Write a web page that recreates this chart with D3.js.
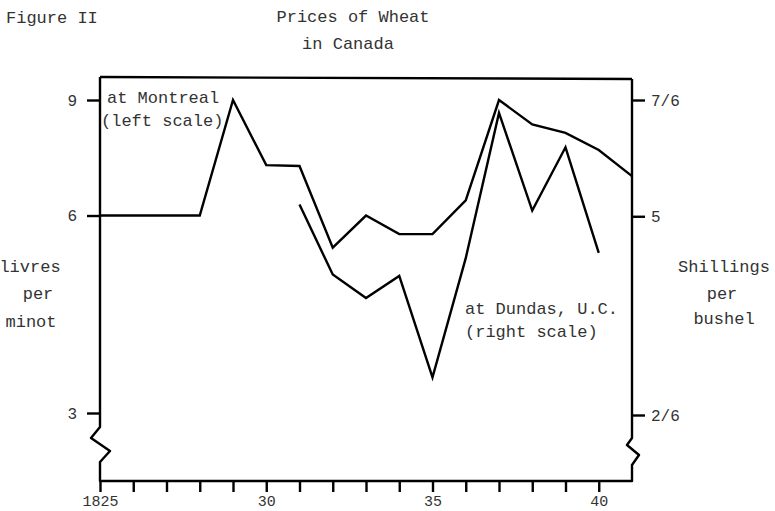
<!DOCTYPE html>
<html>
<head>
<meta charset="utf-8">
<script src="https://cdn.jsdelivr.net/npm/d3@7"></script>
<style>
  html, body { margin: 0; padding: 0; background: #fff; }
  svg { display: block; }
  text { font-family: "Liberation Mono", "DejaVu Sans Mono", monospace; fill: #333; }
</style>
</head>
<body>
<svg id="chart"></svg>
<script>
// Figure II — prices of wheat in Canada, 1825–1841 (log scales)

const montrealYears = [1825, 1826, 1827, 1828, 1829, 1830, 1831, 1832, 1833,
                       1834, 1835, 1836, 1837, 1838, 1839, 1840, 1841];
const montrealLivres = [6, 6, 6, 6, 9, 7.16, 7.14, 5.36, 6.0,
                        5.62, 5.62, 6.33, 9.0, 8.26, 8.02, 7.55, 6.89];

const dundasYears = [1831, 1832, 1833, 1834, 1835, 1836, 1837, 1838, 1839, 1840];
const dundasShillings = [5.21, 4.08, 3.76, 4.06, 2.85, 4.32, 7.17, 5.10, 6.36, 4.40];

const leftTicks = [3, 6, 9];
const rightTicks = [2.5, 5, 7.5];
const rightTickLabels = { 2.5: '2/6', 5: '5', 7.5: '7/6' };
const yearTicks = d3.range(1825, 1841);
const yearTickLabels = { 1825: '1825', 1830: '30', 1835: '35', 1840: '40' };

const W = 775, H = 511;
const L = 100, R = 632, T = 78, B = 481;

const svg = d3.select('#chart').attr('width', W).attr('height', H);

const x = d3.scaleLinear().domain([1825, 1841]).range([L, R]);
const yL = d3.scaleLog().domain([3, 9]).range([413, 100]);
const yR = d3.scaleLog().domain([2.5, 7.5]).range([415, 100]);

// ── frame with axis breaks ────────────────────────────────────────────────
const frame = svg.append('g')
    .attr('fill', 'none').attr('stroke', '#000')
    .attr('stroke-width', 2.4).attr('stroke-linejoin', 'round');

frame.append('path').attr('d', `M${L},${T - 1} L${R},${T + 1}`);
frame.append('path').attr('d',
    `M${L},${T - 1} L${L},427 L${L - 9},438 L${L + 10},451 L${L},462 L${L},${B}` +
    ` L${R},${B} L${R},465 L${R + 7},455 L${R - 5},445 L${R},438 L${R},${T + 1}`);

// ── axes (ticks only, domain drawn above) ─────────────────────────────────
const gl = svg.append('g').attr('transform', `translate(${L},0)`)
    .call(d3.axisLeft(yL).tickValues(leftTicks).tickSize(13).tickPadding(10)
        .tickFormat(d3.format('d')));
const gr = svg.append('g').attr('transform', `translate(${R},0)`)
    .call(d3.axisRight(yR).tickValues(rightTicks).tickSize(13).tickPadding(6)
        .tickFormat(d => rightTickLabels[d]));
const gb = svg.append('g').attr('transform', `translate(0,${B})`)
    .call(d3.axisBottom(x).tickValues(yearTicks).tickSize(11).tickPadding(3)
        .tickFormat(d => yearTickLabels[d] || ''));

[gl, gr, gb].forEach(g => {
    g.select('.domain').remove();
    g.selectAll('line').attr('stroke', '#000').attr('stroke-width', 2.4);
    g.selectAll('text').attr('font-size', '16px').attr('fill', '#333')
        .attr('font-family', '"Liberation Mono", monospace');
});
gb.selectAll('text').attr('font-size', '15px');

// ── lines ─────────────────────────────────────────────────────────────────
const montreal = montrealYears.map((yr, i) => ({ yr, v: montrealLivres[i] }));
const dundas = dundasYears.map((yr, i) => ({ yr, v: dundasShillings[i] }));

svg.append('path').datum(montreal)
    .attr('fill', 'none').attr('stroke', '#000').attr('stroke-width', 2.4)
    .attr('stroke-linejoin', 'miter')
    .attr('d', d3.line().x(d => x(d.yr)).y(d => yL(d.v)));

svg.append('path').datum(dundas)
    .attr('fill', 'none').attr('stroke', '#000').attr('stroke-width', 2.4)
    .attr('stroke-linejoin', 'miter')
    .attr('d', d3.line().x(d => x(d.yr)).y(d => yR(d.v)));

// ── text ──────────────────────────────────────────────────────────────────
function txt(s, px, py, anchor, size) {
    svg.append('text').attr('x', px).attr('y', py)
        .attr('text-anchor', anchor || 'start')
        .attr('font-size', (size || 17) + 'px')
        .attr('xml:space', 'preserve')
        .text(s);
}

txt('Figure II', 6, 23);
txt('Prices of Wheat', 353, 22, 'middle');
txt('in Canada', 348, 49, 'middle');

txt('at Montreal', 107, 103);
txt('(left scale)', 101, 126);

txt('at Dundas, U.C.', 465, 314);
txt('(right scale)', 465, 337);

txt('livres', 30, 272, 'middle');
txt('per', 38, 299, 'middle');
txt('minot', 31, 327, 'middle');

txt('Shillings', 724, 272, 'middle');
txt('per', 722, 299, 'middle');
txt('bushel', 724, 324, 'middle');
</script>
</body>
</html>
